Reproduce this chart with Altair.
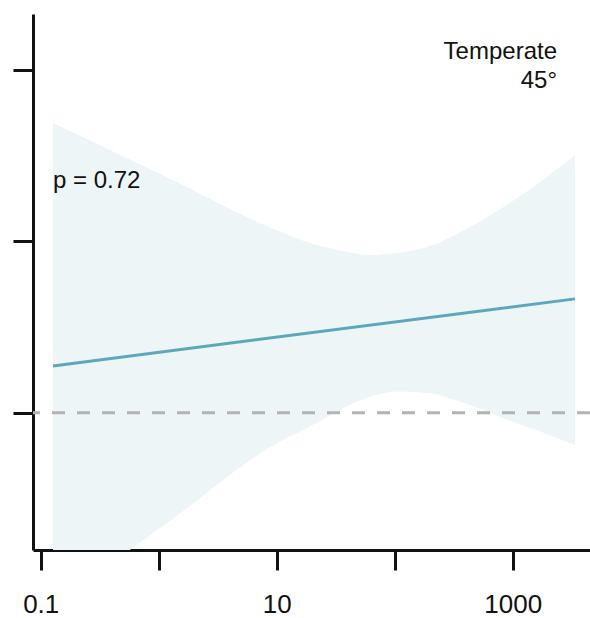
import altair as alt
import pandas as pd

# Confidence band of the fitted trend (log-scaled predictor)
band_x = [0.1271, 1.153, 10.66, 19.15, 34.4, 61.8, 110.9, 199, 357, 780, 1703, 3373]
band_upper = [1.691, 1.378, 1.057, 0.991, 0.948, 0.921, 0.936, 0.974, 1.053, 1.188, 1.346, 1.504]
band_lower = [-1.125, -0.647, -0.167, -0.080, 0.017, 0.095, 0.124, 0.115, 0.066, -0.022, -0.109, -0.187]

# Fitted line end points
fit_x = [0.1271, 3373]
fit_y = [0.274, 0.665]

x_ticks = [0.1, 1, 10, 100, 1000]
y_ticks = [0, 1, 2]
x_domain = [0.086, 4520]
y_domain = [-0.8, 2.327]

FONT = "Liberation Sans"
INK = "#111111"

band = pd.DataFrame({"x": band_x, "lo": band_lower, "hi": band_upper})
fit = pd.DataFrame({"x": fit_x, "y": fit_y})

x_scale = alt.Scale(type="log", domain=x_domain, nice=False)
y_scale = alt.Scale(domain=y_domain, nice=False, zero=False)

x_axis = alt.Axis(
    title=None, values=x_ticks, format="~g",
    labelExpr="abs(round(log(datum.value)/LN10)) % 2 == 1 ? datum.label : ''",
    grid=False, domainColor=INK, domainWidth=3, tickColor=INK, tickWidth=3,
    tickSize=20, labelFont=FONT, labelFontSize=26, labelColor=INK,
    labelPadding=21, labelFlush=False,
)
y_axis = alt.Axis(
    title=None, values=y_ticks, labels=False, grid=False,
    domainColor=INK, domainWidth=3, tickColor=INK, tickWidth=3, tickSize=20,
)

area = alt.Chart(band).mark_area(
    color="#edf5f7", opacity=1, clip=True, interpolate="monotone"
).encode(
    x=alt.X("x:Q", scale=x_scale, axis=x_axis),
    y=alt.Y("lo:Q", scale=y_scale, axis=y_axis),
    y2="hi:Q",
)

zero_rule = alt.Chart(pd.DataFrame({"y": [0]})).mark_rule(
    color="#b3b3b3", strokeWidth=3, strokeDash=[13, 12]
).encode(y=alt.Y("y:Q", scale=y_scale))

line = alt.Chart(fit).mark_line(color="#5ba8be", strokeWidth=3).encode(
    x=alt.X("x:Q", scale=x_scale),
    y=alt.Y("y:Q", scale=y_scale),
)

labels = pd.DataFrame({
    "text": ["Temperate", "45°", "p = 0.72"],
    "px": [524, 524, 20],
    "py": [45, 74, 174],
})

title_text = alt.Chart(labels.iloc[:2]).mark_text(
    font=FONT, fontSize=24, color=INK, align="right", baseline="alphabetic"
).encode(x=alt.X("px:Q", scale=None), y=alt.Y("py:Q", scale=None), text="text:N")

p_text = alt.Chart(labels.iloc[2:]).mark_text(
    font=FONT, fontSize=24, color=INK, align="left", baseline="alphabetic"
).encode(x=alt.X("px:Q", scale=None), y=alt.Y("py:Q", scale=None), text="text:N")

chart = alt.layer(area, zero_rule, line, title_text, p_text).properties(
    width=557, height=536,
    padding={"left": 33, "top": 14, "right": 0, "bottom": 68},
    autosize="none",
    background="white",
).configure_view(stroke=None)

chart.save("out.html", embed_options={"renderer": "svg", "actions": False})
